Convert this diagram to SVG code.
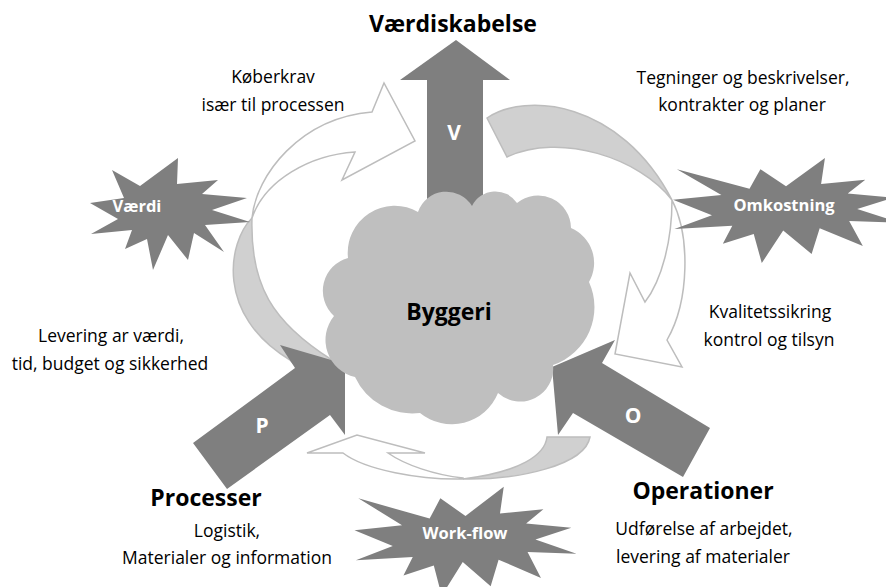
<svg xmlns="http://www.w3.org/2000/svg" xmlns:xlink="http://www.w3.org/1999/xlink" width="886" height="587" viewBox="0 0 886 587">
<style>
.t{font-family:"Open Sans","Liberation Sans",sans-serif;font-size:17.5px;fill:#000;text-anchor:middle}
.h{font-weight:bold;font-size:23px}
.w{fill:#fff;font-weight:bold}
.L{font-size:21px}
.s{font-size:16.5px}
.dark{fill:#7f7f7f}
.band{fill:#d0d0d0;stroke:#bdbdbd;stroke-width:1.5;stroke-linejoin:miter}
.front{fill:#fff;stroke:#bdbdbd;stroke-width:1.5;stroke-linejoin:miter}
.cloud{fill:#bfbfbf}
</style>
<defs>
<polygon id="ex1" points="500,268.5 672.3,0 655.3,246.5 850.9,206.3 773.2,338.7 976.7,376.7 815.1,485 1000,615.3 779.5,599.2 840,837.7 649.1,669.3 613.3,913.8 487.6,691.4 392.8,1000 357.2,723.5 220.5,815.6 262.4,645.2 6.25,675.3 172.3,545.1 0,398.8 214.2,352.6 17.1,106.3 338.5,292.6 386.7,106.3"/>
</defs>
<rect width="886" height="587" fill="#fff"/>
<g id="connectors">
<g id="cycle-left">
<path class="band" d="M252,218 C228,242 215,315 290,360 L305,375 L338,368 L332,360 C272,322 250,285 252,218 Z"/>
<path class="front" d="M252,218 C256,175 300,118 372,112 L384,83 L415,141 L342,180 L355,152 C310,155 265,180 252,218 Z"/>
</g>
<g id="cycle-right">
<path class="band" d="M487,118 C525,92 620,100 672,200 C640,158 560,132 507,157 Z"/>
<path class="front" d="M672,200 C690,235 690,300 667,340 L682,367 L615,354 L630,273 L645,302 C662,280 672,240 672,200 Z"/>
</g>
<g id="cycle-bottom">
<path class="band" d="M463,479 C520,480 585,465 590,437 L547,437 C545,455 520,472 463,479 Z"/>
<path class="front" d="M463,479 C420,480 365,470 343,453 L307,453 L357,435 L425,453 L388,453 C405,465 435,475 463,478 Z"/>
</g>
</g>
<g id="arrow-v">
<polygon class="dark" points="456,40 510,80 483,80 483,230 427,230 427,80 400,80"/>
<text class="t w L" x="454" y="140">V</text>
</g>
<g id="arrow-p">
<polygon class="dark" points="193,443 295,368 280,345 345,364 345,435 330,415 227,489"/>
<text class="t w L" x="262" y="433">P</text>
</g>
<g id="arrow-o">
<polygon class="dark" points="552,367 615,340 602,363 710,428 683,477 573,413 558,435"/>
<text class="t w L" x="633" y="423">O</text>
</g>
<g id="cloud">
<path class="cloud" d="M348,258 A47,47 0 0 1 418,212 A30,30 0 0 1 472,206 A26,26 0 0 1 517,203 A33,33 0 0 1 571,228 A38,38 0 0 1 589,282 A61,61 0 0 1 553,365 A33,33 0 0 1 498,393 A50,50 0 0 1 420,413 A63,63 0 0 1 355,377 A38,38 0 0 1 334,316 A34,34 0 0 1 348,258 Z"/>
<text class="t h" x="449" y="320">Byggeri</text>
</g>
<g id="star-vaerdi">
<polygon class="dark" points="140,186 178,158 177,184 218,180 202,194 247,198 212,210 250,222 205,225 224,252 194,233 188,260 168,235 153,270 147,239 125,249 132,230 91,234 118,219 90,203 124,198 112,170"/>
<text class="t w s" x="137" y="212">Værdi</text>
</g>
<g id="star-omkostning">
<use xlink:href="#ex1" class="dark" transform="translate(673,158) scale(0.226,0.105)"/>
<text class="t w s" x="784" y="211">Omkostning</text>
</g>
<g id="star-workflow">
<use xlink:href="#ex1" class="dark" transform="translate(354.5,486.7) scale(0.222,0.109)"/>
<text class="t w s" x="465" y="539">Work-flow</text>
</g>
<g id="labels">
<text class="t h" x="453" y="32">Værdiskabelse</text>
<text class="t" x="273" y="83">Køberkrav</text>
<text class="t" x="273" y="111">især til processen</text>
<text class="t" x="743" y="84">Tegninger og beskrivelser,</text>
<text class="t" x="742" y="111">kontrakter og planer</text>
<text class="t" x="770" y="318">Kvalitetssikring</text>
<text class="t" x="769" y="346">kontrol og tilsyn</text>
<text class="t" x="111" y="342">Levering ar værdi,</text>
<text class="t" x="110" y="370">tid, budget og sikkerhed</text>
<text class="t h" x="206" y="506">Processer</text>
<text class="t" x="227" y="537">Logistik,</text>
<text class="t" x="227" y="564">Materialer og information</text>
<text class="t h" x="703" y="499">Operationer</text>
<text class="t" x="704" y="535">Udførelse af arbejdet,</text>
<text class="t" x="703" y="563">levering af materialer</text>
</g>
</svg>
